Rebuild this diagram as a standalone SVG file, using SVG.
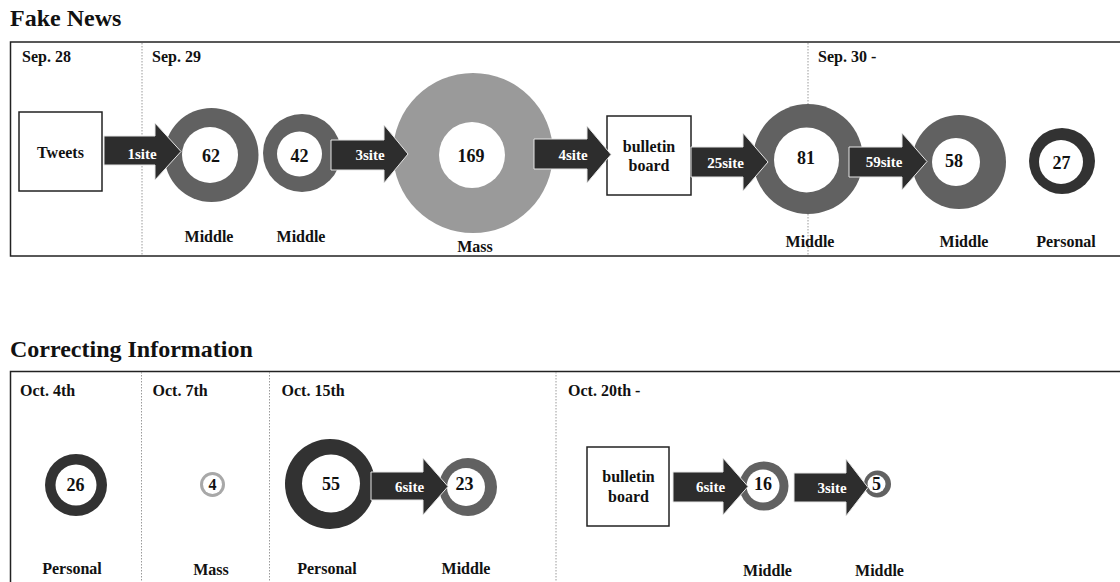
<svg xmlns="http://www.w3.org/2000/svg" width="1120" height="582" viewBox="0 0 1120 582">
  <style>
    text { font-family: "Liberation Serif", "Times New Roman", serif; font-weight: bold; fill: #111; }
    .title { font-size: 24px; }
    .date { font-size: 16px; }
    .cat { font-size: 16px; text-anchor: middle; }
    .num { font-size: 18px; text-anchor: middle; }
    .box { font-size: 16px; text-anchor: middle; }
    .lbl { font-size: 15px; text-anchor: middle; fill: #fff; }
    .panel { fill: none; stroke: #222; stroke-width: 1.5; }
    .divider { stroke: #9a9a9a; stroke-width: 1; stroke-dasharray: 1.5 1.5; }
    .src { fill: #fff; stroke: #222; stroke-width: 1.5; }
    .hole { fill: #fff; }
    .mid { fill: #616161; }
    .mass { fill: #9a9a9a; }
    .pers { fill: #323232; }
    .arrow { fill: #2d2d2d; stroke: #e6e6e6; stroke-width: 1; }
  </style>

  <!-- Fake News panel -->
  <text class="title" x="10" y="26">Fake News</text>
  <rect class="panel" x="10.5" y="42" width="1120" height="214"/>
  <line class="divider" x1="142" y1="43" x2="142" y2="255"/>
  <line class="divider" x1="808" y1="43" x2="808" y2="255"/>
  <text class="date" x="22" y="62">Sep. 28</text>
  <text class="date" x="152" y="62">Sep. 29</text>
  <text class="date" x="818" y="62">Sep. 30 -</text>

  <g id="fn-tweets">
    <rect class="src" x="19" y="112" width="83" height="79"/>
    <text class="box" x="60.5" y="158">Tweets</text>
  </g>
  <g id="fn-62">
    <circle class="mid" cx="211.5" cy="155" r="47"/>
    <circle class="hole" cx="210" cy="155" r="28"/>
    <text class="num" x="211" y="162">62</text>
    <text class="cat" x="209" y="242">Middle</text>
  </g>
  <g id="fn-42">
    <circle class="mid" cx="302" cy="153" r="39"/>
    <circle class="hole" cx="299.5" cy="154" r="22.5"/>
    <text class="num" x="299.5" y="162">42</text>
    <text class="cat" x="301" y="242">Middle</text>
  </g>
  <g id="fn-169">
    <circle class="mass" cx="473" cy="153" r="80"/>
    <circle class="hole" cx="472" cy="155" r="33"/>
    <text class="num" x="471" y="162">169</text>
    <text class="cat" x="475" y="252">Mass</text>
  </g>
  <g id="fn-board">
    <rect class="src" x="607" y="116" width="84" height="79"/>
    <text class="box" x="649" y="152">bulletin</text>
    <text class="box" x="649" y="171">board</text>
  </g>
  <g id="fn-81">
    <circle class="mid" cx="808" cy="159" r="55"/>
    <circle class="hole" cx="806.5" cy="160" r="32.5"/>
    <text class="num" x="806" y="164">81</text>
    <text class="cat" x="810" y="247">Middle</text>
  </g>
  <g id="fn-58">
    <circle class="mid" cx="959" cy="162" r="47"/>
    <circle class="hole" cx="956" cy="162" r="24"/>
    <text class="num" x="954" y="167">58</text>
    <text class="cat" x="964" y="247">Middle</text>
  </g>
  <g id="fn-27">
    <circle class="pers" cx="1062" cy="161" r="33"/>
    <circle class="hole" cx="1061" cy="162" r="22"/>
    <text class="num" x="1061.5" y="169">27</text>
    <text class="cat" x="1066" y="247">Personal</text>
  </g>

  <!-- Correcting Information panel -->
  <text class="title" x="10" y="357">Correcting Information</text>
  <rect class="panel" x="10.5" y="371.5" width="1120" height="230"/>
  <line class="divider" x1="141.5" y1="372" x2="141.5" y2="582"/>
  <line class="divider" x1="269.5" y1="372" x2="269.5" y2="582"/>
  <line class="divider" x1="556" y1="372" x2="556" y2="582"/>
  <text class="date" x="20" y="396">Oct. 4th</text>
  <text class="date" x="152.5" y="396">Oct. 7th</text>
  <text class="date" x="281.5" y="396">Oct. 15th</text>
  <text class="date" x="568" y="396">Oct. 20th -</text>

  <g id="ci-26">
    <circle class="pers" cx="76" cy="485" r="31"/>
    <circle class="hole" cx="76" cy="485" r="20.5"/>
    <text class="num" x="75.5" y="491">26</text>
    <text class="cat" x="72" y="574">Personal</text>
  </g>
  <g id="ci-4">
    <circle cx="212.5" cy="484.5" r="12.5" fill="#a8a8a8"/>
    <circle class="hole" cx="212.5" cy="484.5" r="9.5"/>
    <text class="num" x="212.5" y="490" style="font-size:16px">4</text>
    <text class="cat" x="211" y="575">Mass</text>
  </g>
  <g id="ci-55">
    <circle class="pers" cx="330" cy="484" r="45"/>
    <circle class="hole" cx="331" cy="483.5" r="29"/>
    <text class="num" x="331" y="490">55</text>
    <text class="cat" x="327" y="574">Personal</text>
  </g>
  <g id="ci-23">
    <circle class="mid" cx="468" cy="487" r="29"/>
    <circle class="hole" cx="466" cy="487" r="19"/>
    <text class="num" x="464.5" y="490">23</text>
    <text class="cat" x="466" y="574">Middle</text>
  </g>
  <g id="ci-board">
    <rect class="src" x="587" y="447" width="82" height="79"/>
    <text class="box" x="628.5" y="482">bulletin</text>
    <text class="box" x="628.5" y="502">board</text>
  </g>
  <g id="ci-16">
    <circle class="mid" cx="764" cy="486" r="24.5"/>
    <circle class="hole" cx="763" cy="486" r="16.5"/>
    <text class="num" x="763" y="490">16</text>
    <text class="cat" x="767.5" y="576">Middle</text>
  </g>
  <g id="ci-5">
    <circle class="mid" cx="877.5" cy="484" r="13.5"/>
    <circle class="hole" cx="876.5" cy="484" r="9"/>
    <text class="num" x="876.5" y="490">5</text>
    <text class="cat" x="879.5" y="576">Middle</text>
  </g>

  <!-- block arrows between sources -->
  <g id="connectors">
    <polygon class="arrow" points="104,136 155,136 155,123 181,151.5 155,180 155,165 104,165"/>
    <text class="lbl" x="142" y="159">1site</text>
    <polygon class="arrow" points="331,140 384,140 384,125 408,154 384,183 384,170 331,170"/>
    <text class="lbl" x="370" y="160">3site</text>
    <polygon class="arrow" points="534,139 587,139 587,126 611,154.5 587,183 587,169 534,169"/>
    <text class="lbl" x="573" y="160">4site</text>
    <polygon class="arrow" points="691,147 743,147 743,133 768,162 743,191 743,177 691,177"/>
    <text class="lbl" x="725.5" y="168">25site</text>
    <polygon class="arrow" points="849,147 902,147 902,133 927,161.5 902,190 902,177 849,177"/>
    <text class="lbl" x="884" y="167">59site</text>
    <polygon class="arrow" points="371,472 423,472 423,458 448,486.5 423,515 423,500 371,500"/>
    <text class="lbl" x="409.5" y="492">6site</text>
    <polygon class="arrow" points="673,472 723,472 723,458 748,486.5 723,515 723,502 673,502"/>
    <text class="lbl" x="710.5" y="492">6site</text>
    <polygon class="arrow" points="794,473 846,473 846,459 868,487.5 846,516 846,502 794,502"/>
    <text class="lbl" x="832" y="493">3site</text>
  </g>
</svg>
